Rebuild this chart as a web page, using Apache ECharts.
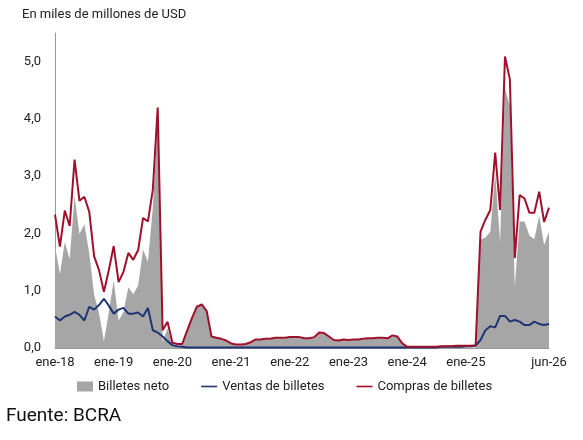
<!DOCTYPE html>
<html>
<head>
<meta charset="utf-8">
<script src="https://cdn.jsdelivr.net/npm/echarts@6/dist/echarts.min.js"></script>
<style>
  html, body { margin: 0; padding: 0; background: #fff; }
  #chart { width: 583px; height: 440px; }
</style>
</head>
<body>
<div id="chart"></div>
<script>
// months jan-18 .. jun-26
const monthNames = ['ene','feb','mar','abr','may','jun','jul','ago','sep','oct','nov','dic'];
const categories = [];
for (let y = 18; y <= 26; y++) {
  for (let m = 0; m < 12; m++) {
    if (y === 26 && m > 5) break;
    categories.push(monthNames[m] + '-' + y);
  }
}

const compras = [
  2.33,1.77,2.40,2.13,3.29,2.57,2.64,2.38,1.60,1.36,0.98,1.36,
  1.78,1.15,1.33,1.66,1.54,1.71,2.27,2.21,2.76,4.20,0.31,0.46,
  0.09,0.07,0.07,0.30,0.52,0.72,0.76,0.65,0.20,0.18,0.16,0.13,
  0.08,0.06,0.06,0.07,0.10,0.15,0.15,0.16,0.16,0.18,0.18,0.18,
  0.19,0.19,0.19,0.17,0.17,0.19,0.27,0.26,0.20,0.14,0.13,0.15,
  0.14,0.15,0.15,0.16,0.17,0.17,0.18,0.18,0.17,0.22,0.20,0.08,
  0.02,0.02,0.02,0.02,0.02,0.02,0.02,0.03,0.03,0.03,0.04,0.04,
  0.04,0.04,0.05,2.03,2.24,2.41,3.41,2.41,5.09,4.69,1.57,2.67,
  2.61,2.36,2.36,2.73,2.20,2.45
];
const ventas = [
  0.55,0.48,0.55,0.58,0.63,0.58,0.48,0.72,0.67,0.75,0.86,0.74,
  0.60,0.67,0.70,0.60,0.60,0.62,0.55,0.70,0.31,0.27,0.20,0.12,
  0.05,0.03,0.02,0.01,0.01,0.01,0.01,0.01,0.01,0.01,0.01,0.01,
  0.01,0.01,0.01,0.01,0.01,0.01,0.01,0.01,0.01,0.01,0.01,0.01,
  0.01,0.01,0.01,0.01,0.01,0.01,0.01,0.01,0.01,0.01,0.01,0.01,
  0.01,0.01,0.01,0.01,0.01,0.01,0.01,0.01,0.01,0.01,0.01,0.01,
  0.01,0.01,0.01,0.01,0.01,0.01,0.01,0.02,0.02,0.02,0.02,0.02,
  0.03,0.03,0.04,0.14,0.31,0.38,0.36,0.56,0.56,0.46,0.49,0.46,
  0.40,0.40,0.46,0.42,0.40,0.42
];
const neto = [
  1.78,1.29,1.85,1.55,2.66,1.99,2.16,1.66,0.93,0.61,0.12,0.62,
  1.18,0.48,0.63,1.06,0.94,1.09,1.72,1.51,2.45,3.93,0.11,0.34,
  0.04,0.04,0.05,0.29,0.51,0.71,0.75,0.64,0.19,0.17,0.15,0.12,
  0.07,0.05,0.05,0.06,0.09,0.14,0.14,0.15,0.15,0.17,0.17,0.17,
  0.18,0.18,0.18,0.16,0.16,0.18,0.26,0.25,0.19,0.13,0.12,0.14,
  0.13,0.14,0.14,0.15,0.16,0.16,0.17,0.17,0.16,0.21,0.19,0.07,
  0.01,0.01,0.01,0.01,0.01,0.01,0.01,0.01,0.01,0.01,0.02,0.02,
  0.01,0.01,0.01,1.89,1.93,2.03,3.05,1.85,4.53,4.23,1.08,2.21,
  2.21,1.96,1.90,2.31,1.80,2.03
];

const chart = echarts.init(document.getElementById('chart'));
const font = 'Roboto, "Noto Sans", sans-serif';
const last = categories.length - 1;
chart.setOption({
  animation: false,
  textStyle: { fontFamily: font },
  graphic: [
    { type: 'text', left: 22, top: 8, style: { text: 'En miles de millones de USD', fontSize: 13, fill: '#222', fontFamily: font } },
    { type: 'text', left: 6, top: 407, style: { text: 'Fuente: BCRA', fontSize: 19, fill: '#111', fontFamily: font } }
  ],
  legend: {
    left: 72, bottom: 42, itemGap: 32, itemWidth: 16, itemHeight: 10,
    textStyle: { fontSize: 13, color: '#222' },
    data: [
      { name: 'Billetes neto', icon: 'rect' },
      { name: 'Ventas de billetes', icon: 'path://M0,4h20v2h-20z', itemStyle: { color: '#1f3573' } },
      { name: 'Compras de billetes', icon: 'path://M0,4h20v2h-20z', itemStyle: { color: '#a0102a' } }
    ]
  },
  grid: { left: 55, right: 34, top: 33, bottom: 92 },
  xAxis: {
    type: 'category', data: categories, boundaryGap: false,
    axisLine: { lineStyle: { color: '#999' } },
    axisTick: { show: false },
    axisLabel: {
      interval: (i) => (i % 12 === 0 && i < 96) || i === last,
      color: '#222', fontSize: 13, margin: 8
    }
  },
  yAxis: {
    type: 'value', min: 0, max: 5.5, interval: 1,
    splitLine: { show: false },
    axisLine: { show: true, lineStyle: { color: '#999' } },
    axisTick: { show: false },
    axisLabel: { color: '#222', fontSize: 13, margin: 14, formatter: v => v > 5 ? '' : v.toFixed(1).replace('.', ',') }
  },
  series: [
    { name: 'Billetes neto', type: 'line', data: neto, symbol: 'none',
      itemStyle: { color: '#a6a6a6' }, lineStyle: { width: 0 }, areaStyle: { color: '#a6a6a6', opacity: 1 } },
    { name: 'Ventas de billetes', type: 'line', data: ventas, symbol: 'none',
      itemStyle: { color: '#1f3573' }, lineStyle: { width: 2, color: '#1f3573' } },
    { name: 'Compras de billetes', type: 'line', data: compras, symbol: 'none',
      itemStyle: { color: '#a0102a' }, lineStyle: { width: 2, color: '#a0102a' } }
  ]
});
</script>
</body>
</html>
